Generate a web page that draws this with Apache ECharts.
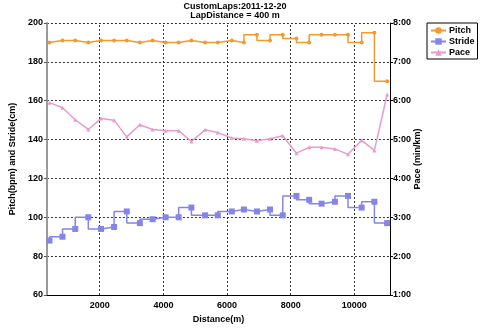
<!DOCTYPE html>
<html>
<head>
<meta charset="utf-8">
<script src="https://cdn.jsdelivr.net/npm/echarts@6/dist/echarts.min.js"></script>
<style>
html, body { margin: 0; padding: 0; background: #fff; }
#chart { width: 480px; height: 329px; }
</style>
</head>
<body>
<div id="chart"></div>
<script>
// Cumulative distance at the end of each lap (m)
const distance = [420, 830, 1230, 1640, 2040, 2450, 2850, 3260, 3660, 4070, 4480, 4880, 5310, 5710,
  6150, 6530, 6940, 7350, 7750, 8180, 8580, 8970, 9390, 9800, 10230, 10630, 11030];
// Cadence per lap (steps per minute)
const pitch = [190, 191, 191, 190, 191, 191, 191, 190, 191, 190, 190, 191, 190, 190,
  191, 190, 194, 191, 194, 192, 190, 194, 194, 194, 190, 195, 170];
// Stride length per lap (cm)
const stride = [88, 90, 94, 100, 94, 95, 103, 97, 99, 100, 100, 105, 101, 101,
  103, 104, 103, 104, 101, 111, 109, 107, 108, 111, 105, 108, 97];
// Pace per lap (minutes per km)
const pace = [5.95, 5.82, 5.51, 5.26, 5.54, 5.50, 5.07, 5.38, 5.26, 5.23, 5.23, 4.95, 5.25, 5.18,
  5.04, 5.02, 4.97, 5.02, 5.10, 4.65, 4.80, 4.80, 4.76, 4.62, 4.98, 4.72, 6.16];
const distanceTicks = [2000, 4000, 6000, 8000, 10000];

const FONT = '"Liberation Sans", Arial, sans-serif';
const COLORS = { pitch: '#f29a2e', stride: '#8585e8', pace: '#e89ccb' };

function pairs(ys) { return distance.map((d, i) => [d, ys[i]]); }
function fmtPace(v) {
  const m = Math.floor(v + 1e-9);
  const s = Math.round((v - m) * 60);
  return m + ':' + (s < 10 ? '0' : '') + s;
}

const chart = echarts.init(document.getElementById('chart'), null, { renderer: 'canvas' });
const gridDash = { color: '#333', width: 1, type: [2, 2] };
const labelFont = { fontFamily: FONT, fontSize: 9, fontWeight: 'bold', color: '#000' };

chart.setOption({
  animation: false,
  backgroundColor: '#fff',
  title: {
    text: 'CustomLaps:2011-12-20\nLapDistance = 400 m',
    left: 230, top: -3, textAlign: 'center',
    textStyle: Object.assign({ lineHeight: 9 }, labelFont)
  },
  legend: {
    orient: 'vertical',
    left: 427, top: 23,
    width: 47,
    padding: [3, 3, 2, 3],
    itemGap: 2,
    itemWidth: 15, itemHeight: 8,
    borderColor: '#000', borderWidth: 1,
    backgroundColor: '#fff',
    textStyle: Object.assign({ padding: [0, 0, 0, -2] }, labelFont),
    data: ['Pitch', 'Stride', 'Pace']
  },
  grid: { left: 36, right: 90, top: 23, bottom: 26, containLabel: false },
  xAxis: {
    type: 'value',
    min: 340, max: 11120,
    name: 'Distance(m)', nameLocation: 'middle', nameGap: 20,
    nameTextStyle: labelFont,
    axisLine: { lineStyle: { color: '#000', width: 1 } },
    axisTick: { show: false },
    axisLabel: Object.assign({ customValues: distanceTicks, margin: 6, formatter: v => String(v) }, labelFont),
    splitLine: { show: false }
  },
  yAxis: [
    {
      type: 'value', min: 60, max: 200, interval: 20,
      name: 'Pitch(bpm) and Stride(cm)', nameLocation: 'middle', nameGap: 21, nameRotate: 90,
      nameTextStyle: labelFont,
      axisLine: { show: true, lineStyle: { color: '#999', width: 2 } },
      axisTick: { show: true, length: 3, lineStyle: { color: '#555' } },
      axisLabel: Object.assign({ margin: 4 }, labelFont),
      splitLine: { show: true, lineStyle: gridDash }
    },
    {
      type: 'value', min: 1, max: 8, interval: 1, position: 'right',
      name: 'Pace (min/km)', nameLocation: 'middle', nameGap: 23, nameRotate: 90,
      nameMoveOverlap: false,
      nameTextStyle: labelFont,
      axisLine: { show: true, lineStyle: { color: '#000', width: 1 } },
      axisTick: { show: true, length: 3, lineStyle: { color: '#000' } },
      axisLabel: Object.assign({ formatter: fmtPace, margin: 3 }, labelFont),
      splitLine: { show: false }
    }
  ],
  series: [
    {
      name: 'Pitch', type: 'line', yAxisIndex: 0, step: 'start',
      data: pairs(pitch),
      symbol: 'circle', symbolSize: 4,
      lineStyle: { color: COLORS.pitch, width: 1.5 },
      itemStyle: { color: COLORS.pitch },
      // vertical distance grid lines
      markLine: {
        silent: true, symbol: 'none', label: { show: false }, z: 1,
        lineStyle: gridDash, emphasis: { disabled: true },
        data: distanceTicks.map(d => ({ xAxis: d }))
      }
    },
    {
      name: 'Stride', type: 'line', yAxisIndex: 0, step: 'start',
      data: pairs(stride),
      symbol: 'rect', symbolSize: 6,
      lineStyle: { color: COLORS.stride, width: 1.5 },
      itemStyle: { color: COLORS.stride }
    },
    {
      name: 'Pace', type: 'line', yAxisIndex: 1,
      data: pairs(pace),
      symbol: 'triangle', symbolSize: 4,
      lineStyle: { color: COLORS.pace, width: 1.5 },
      itemStyle: { color: COLORS.pace }
    }
  ]
});
</script>
</body>
</html>
